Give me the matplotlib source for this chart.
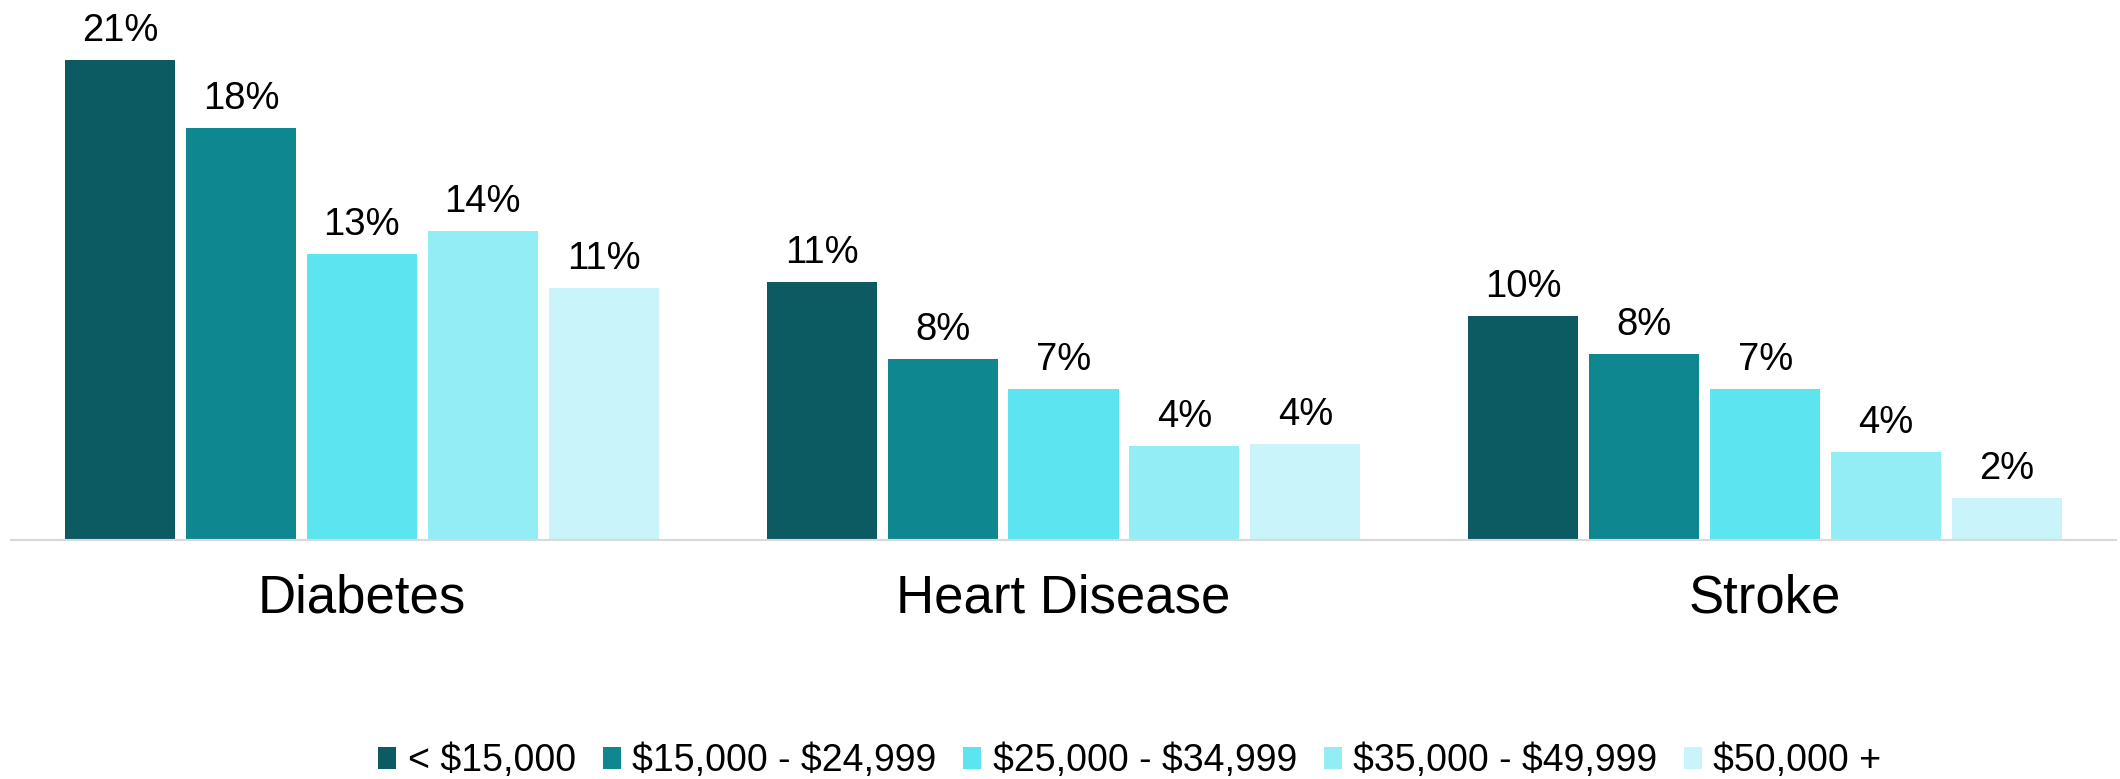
import numpy as np
import matplotlib as mpl
mpl.use('Agg')
import matplotlib.pyplot as plt

plt.rcParams['font.family'] = ['Liberation Sans', 'DejaVu Sans']
plt.rcParams['text.parse_math'] = False  # keep the $ signs literal

# data
conditions = ['Diabetes', 'Heart Disease', 'Stroke']
income_groups = ['< $15,000', '$15,000 - $24,999', '$25,000 - $34,999',
                 '$35,000 - $49,999', '$50,000 +']
lt15k = [21.0, 11.3, 9.8]
k15_25 = [18.0, 7.9, 8.15]
k25_35 = [12.5, 6.6, 6.6]
k35_50 = [13.5, 4.1, 3.85]
k50plus = [11.0, 4.2, 1.85]
labels = [['21%', '11%', '10%'],
          ['18%', '8%', '8%'],
          ['13%', '7%', '7%'],
          ['14%', '4%', '4%'],
          ['11%', '4%', '2%']]

series = [lt15k, k15_25, k25_35, k35_50, k50plus]
colors = ['#0D5B62', '#0F8790', '#5CE4F0', '#93EDF5', '#C9F4F9']

fig = plt.figure(figsize=(21.2, 7.79), dpi=100)
ax = fig.add_axes([11 / 2120, 1 - 540 / 779, 2105 / 2120, 526 / 779])

x = np.arange(len(conditions))
pitch = 0.1723
width = 0.157
for i, vals in enumerate(series):
    pos = x + (i - 2) * pitch
    bars = ax.bar(pos, vals, width, color=colors[i], label=income_groups[i], zorder=2)
    for b, lab in zip(bars, labels[i]):
        ax.annotate(lab, (b.get_x() + b.get_width() / 2, b.get_height()),
                    xytext=(0, 13.7), textcoords='offset points',
                    ha='center', va='baseline', fontsize=27.5, color='black')

ax.set_xlim(-0.5, 2.5)
ax.set_ylim(0, 23)
ax.set_xticks(x)
ax.set_xticklabels(conditions, fontsize=38)
ax.tick_params(axis='x', length=0, pad=24)
ax.set_yticks([])
for s in ['top', 'right', 'left']:
    ax.spines[s].set_visible(False)
ax.spines['bottom'].set_color('#D9D9D9')
ax.spines['bottom'].set_linewidth(1.5)

fig.legend(loc='center', bbox_to_anchor=(0.533, 0.023), ncol=5, frameon=False,
           fontsize=27, handlelength=0.48, handleheight=0.52, handletextpad=0.3,
           columnspacing=0.72, borderpad=0)

fig.savefig('out.png', dpi=100)
